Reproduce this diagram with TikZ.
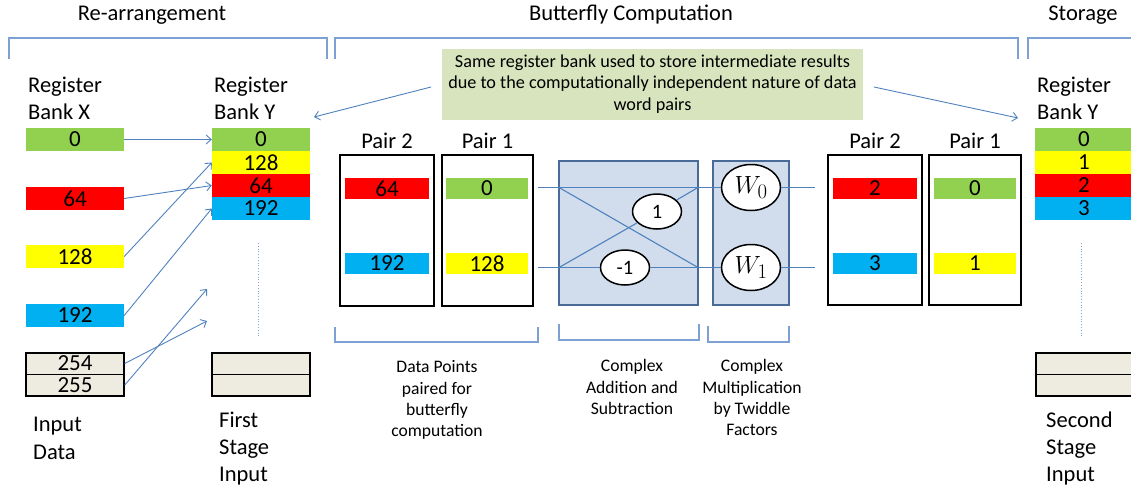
\documentclass[tikz,border=0pt]{standalone}
\usepackage{fontspec}
\setmainfont{Carlito}
\usetikzlibrary{arrows.meta,shapes.geometric}
\definecolor{cgreen}{HTML}{92D050}
\definecolor{cyellow}{HTML}{FFFF00}
\definecolor{cred}{HTML}{FF0000}
\definecolor{cblue}{HTML}{00B0F0}
\definecolor{beige}{HTML}{EEECE1}
\definecolor{notefill}{HTML}{D8E4BE}
\definecolor{unitfill}{HTML}{D1DDED}
\definecolor{unitedge}{HTML}{4A6A98}
\definecolor{wire}{HTML}{4F81BD}
\definecolor{brace}{HTML}{7EA1D4}
\begin{document}
\begin{tikzpicture}[x=1pt,y=-1pt,
  big/.style={font=\fontsize{22.5}{27}\selectfont},
  small/.style={font=\fontsize{17.6}{21.3}\selectfont},
  cell/.style={minimum width=98pt,minimum height=23pt,inner sep=0pt,
    font=\fontsize{23}{25}\selectfont},
  slot/.style={cell,minimum height=21.5pt,fill=beige,draw=black,line width=1.5pt},
  pcell/.style={cell,minimum width=84pt,minimum height=21pt},
  qcell/.style={cell,minimum width=82pt,minimum height=21pt},
  pairbox/.style={draw=black,line width=1.5pt,inner sep=0pt,minimum height=151pt},
  unit/.style={fill=unitfill,draw=unitedge,line width=2pt,inner sep=0pt,minimum height=144pt},
  coef/.style={ellipse,draw=black,line width=1.5pt,fill=white,inner sep=0pt,
    minimum width=49pt,minimum height=35pt,font=\fontsize{20.5}{22}\selectfont},
  twid/.style={ellipse,draw=black,line width=1.5pt,fill=white,inner sep=0pt,
    minimum width=59pt,minimum height=46pt,font=\fontsize{29}{32}\selectfont},
  arr/.style={draw=wire,line width=0.9pt,-{Straight Barb[length=5pt,width=9pt]}},
  wireline/.style={draw=wire,line width=1.1pt},
  bracket/.style={draw=brace,line width=1.6pt},
  guide/.style={draw=wire!70,line width=0.8pt,dotted}]
\useasboundingbox (0,0) rectangle (1131,488);

% section titles and brackets
\node[big,anchor=base] (t1) at (152,20) {Re-arrangement};
\node[big,anchor=base] (t2) at (631,20) {Butterfly Computation};
\node[big,anchor=base] (t3) at (1083,20) {Storage};
\draw[bracket] (9,59) |- (327,38) -- (327,59);
\draw[bracket] (335,59) |- (1018,38) -- (1018,59);
\draw[bracket] (1028,59) |- (1136,38);

% register bank X
\node[big,anchor=north west,align=left,inner sep=0pt] (lx) at (28,77) {Register\\Bank X};
\node[cell,fill=cgreen] (x0) at (75,139.5) {0};
\node[cell,fill=cred] (x64) at (75,198.5) {64};
\node[cell,fill=cyellow] (x128) at (75,256.5) {128};
\node[cell,fill=cblue] (x192) at (75,315.5) {192};
\node[slot] (x254) at (75,363.5) {254};
\node[slot] (x255) at (75,385) {255};
\node[big,anchor=north west,align=left,inner sep=0pt] (lin) at (33,417) {Input\\[1pt]Data};

% register bank Y, first stage
\node[big,anchor=north west,align=left,inner sep=0pt] (ly) at (214,77) {Register\\Bank Y};
\node[cell,fill=cgreen] (y0) at (261,139.5) {0};
\node[cell,fill=cyellow] (y128) at (261,162.5) {128};
\node[cell,fill=cred] (y64) at (261,185.5) {64};
\node[cell,fill=cblue] (y192) at (261,208.5) {192};
\node[slot] (ye1) at (261,363.5) {};
\node[slot] (ye2) at (261,385) {};
\draw[guide] (258,243) -- (258,337);
\node[big,anchor=north west,align=left,inner sep=0pt] (lfs) at (219,412) {First\\Stage\\Input};

% re-arrangement arrows
\coordinate (f254) at (207,321);
\coordinate (f255) at (207,289);
\draw[arr] (x0.east) -- (y0.west);
\draw[arr] (x64.east) -- (y64.west);
\draw[arr] (x128.east) -- (y128.west);
\draw[arr] (x192.east) -- (y192.west);
\draw[arr] (x254.east) -- (f254);
\draw[arr] (x255.east) -- (f255);

% note about the register bank
\node[fill=notefill,minimum width=421pt,minimum height=71pt,inner sep=0pt,align=center,
  font=\fontsize{18.2}{21.5}\selectfont] (note) at (652.5,84)
  {Same register bank used to store intermediate results\\
   due to the computationally independent nature of data\\
   word pairs};
\coordinate (nl) at (431,87);
\coordinate (nr) at (874,87);
\coordinate (tl) at (314,117);
\coordinate (tr) at (1018,118);
\draw[arr] (nl) -- (tl);
\draw[arr] (nr) -- (tr);

% input pairs
\node[big,anchor=base] (lp2) at (387,148) {Pair 2};
\node[big,anchor=base] (lp1) at (487.5,148) {Pair 1};
\node[pairbox,minimum width=94pt] (p2) at (387,230.5) {};
\node[pairbox,minimum width=91pt] (p1) at (487.5,230.5) {};
\node[pcell,fill=cred] (p2a) at (387,188.5) {64};
\node[pcell,fill=cblue] (p2b) at (387,263.5) {192};
\node[qcell,fill=cgreen] (p1a) at (487,188) {0};
\node[qcell,fill=cyellow] (p1b) at (487,263.5) {128};

% butterfly units
\node[unit,minimum width=139pt] (add) at (628.5,233) {};
\node[unit,minimum width=76pt] (mul) at (751,233) {};
\node[coef] (cp) at (657,211.5) {1};
\node[coef] (cm) at (625,267.5) {-1};
\node[twid] (w0) at (751,187.5) {$W_0$};
\node[twid] (w1) at (751,267.5) {$W_1$};
\coordinate (a0) at (538,187.5);
\coordinate (a1) at (538,267.5);
\coordinate (b0) at (559,187.5);
\coordinate (b1) at (559,267.5);
\coordinate (c0) at (698,187.5);
\coordinate (c1) at (698,267.5);
\coordinate (o0) at (815,187.5);
\coordinate (o1) at (815,267.5);
\draw[wireline] (a0) -- (w0);
\draw[wireline] (a1) -- (cm);
\draw[wireline] (cm) -- (w1);
\draw[wireline] (b0) -- (c1);
\draw[wireline] (b1) -- (cp);
\draw[wireline] (cp) -- (c0);
\draw[wireline] (w0) -- (o0);
\draw[wireline] (w1) -- (o1);

% output pairs
\node[big,anchor=base] (lq2) at (875,148) {Pair 2};
\node[big,anchor=base] (lq1) at (975,148) {Pair 1};
\node[pairbox,minimum width=94pt,minimum height=150pt] (q2) at (875,230) {};
\node[pairbox,minimum width=92pt,minimum height=150pt] (q1) at (975,230) {};
\node[pcell,fill=cred] (q2a) at (875,188.5) {2};
\node[pcell,fill=cblue] (q2b) at (875,263) {3};
\node[qcell,fill=cgreen] (q1a) at (975,188.5) {0};
\node[qcell,fill=cyellow] (q1b) at (975,263) {1};

% register bank Y, second stage
\node[big,anchor=north west,align=left,inner sep=0pt] (ls) at (1037,77) {Register\\Bank Y};
\node[cell,fill=cgreen] (s0) at (1084,139.5) {0};
\node[cell,fill=cyellow] (s1) at (1084,162.5) {1};
\node[cell,fill=cred] (s2) at (1084,185.5) {2};
\node[cell,fill=cblue] (s3) at (1084,208.5) {3};
\node[slot] (se1) at (1085,363.5) {};
\node[slot] (se2) at (1085,385) {};
\draw[guide] (1081,243) -- (1081,337);
\node[big,anchor=north west,align=left,inner sep=0pt] (lss) at (1046,412) {Second\\Stage\\Input};

% lower brackets and captions
\draw[bracket] (335,327) |- (538,342) -- (538,327);
\draw[bracket] (559,324) |- (699,340) -- (699,324);
\draw[bracket] (708,326) |- (789,342) -- (789,326);
\node[small,anchor=north,align=center,inner sep=0pt] (cap1) at (437,360.5)
  {Data Points\\paired for\\butterfly\\computation};
\node[small,anchor=north,align=center,inner sep=0pt] (cap2) at (632,359.5)
  {Complex\\Addition and\\Subtraction};
\node[small,anchor=north,align=center,inner sep=0pt] (cap3) at (752,359.5)
  {Complex\\Multiplication\\by Twiddle\\Factors};
\end{tikzpicture}
\end{document}
